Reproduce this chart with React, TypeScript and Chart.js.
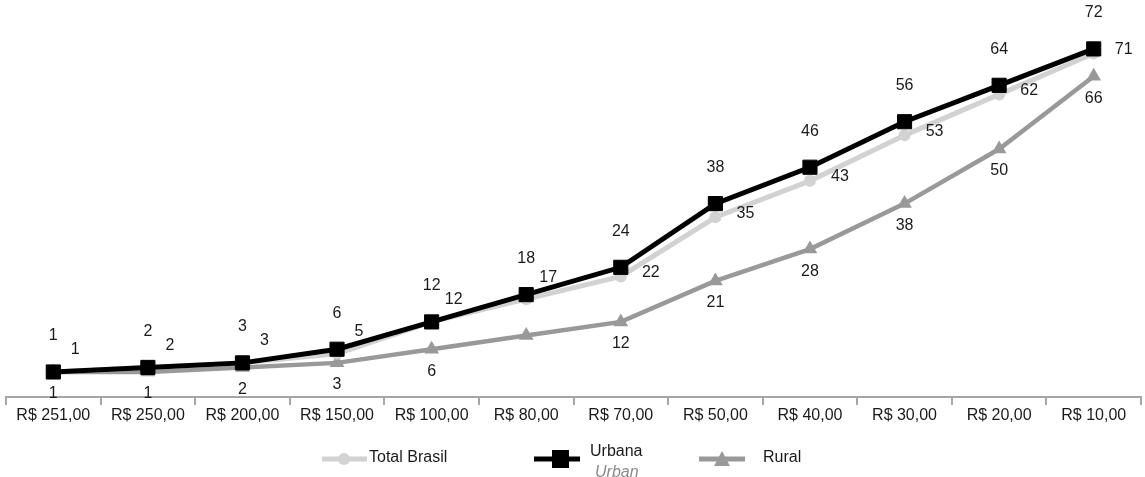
import React, { useEffect, useRef } from "react";
import { Chart, registerables } from "chart.js";

Chart.register(...registerables);

const categories = [
  "R$ 251,00", "R$ 250,00", "R$ 200,00", "R$ 150,00", "R$ 100,00", "R$ 80,00",
  "R$ 70,00", "R$ 50,00", "R$ 40,00", "R$ 30,00", "R$ 20,00", "R$ 10,00",
];
const totalBrasil = [1, 2, 3, 5, 12, 17, 22, 35, 43, 53, 62, 71];
const urbana = [1, 2, 3, 6, 12, 18, 24, 38, 46, 56, 64, 72];
const rural = [1, 1, 2, 3, 6, 9, 12, 21, 28, 38, 50, 66];
const ruralLabelShown = [true, true, true, true, true, false, true, true, true, true, true, true];

const FONT = "'Liberation Sans', Arial, sans-serif";
const FS = 16;
const LIGHT = "#d2d2d2";
const MID = "#999999";
const DARK = "#000000";

const labelsPlugin = {
  id: "valueLabels",
  afterDatasetsDraw(chart: any) {
    const ctx = chart.ctx;
    ctx.save();
    ctx.font = `${FS}px ${FONT}`;
    ctx.fillStyle = "#1a1a1a";
    ctx.textAlign = "center";
    ctx.textBaseline = "middle";
    chart.data.datasets.forEach((ds: any, i: number) => {
      const meta = chart.getDatasetMeta(i);
      meta.data.forEach((pt: any, j: number) => {
        const v = ds.data[j];
        let dx = 0, dy = 0;
        if (ds.label === "Urbana") { dy = -36; }
        else if (ds.label === "Total Brasil") {
          if (v < 20) { dx = 22; dy = -22; } else { dx = 30; dy = -4; }
        } else { if (!ruralLabelShown[j]) return; dy = 22; }
        ctx.fillText(String(v), pt.x + dx, pt.y + dy);
      });
    });
    ctx.restore();
  },
};

const legendPlugin = {
  id: "customLegend",
  afterDraw(chart: any) {
    const ctx = chart.ctx;
    ctx.save();
    const y = 459;
    ctx.strokeStyle = LIGHT; ctx.lineWidth = 5;
    ctx.beginPath(); ctx.moveTo(322, y); ctx.lineTo(367, y); ctx.stroke();
    ctx.fillStyle = LIGHT;
    ctx.beginPath(); ctx.arc(344, y, 6, 0, Math.PI * 2); ctx.fill();
    ctx.strokeStyle = DARK; ctx.lineWidth = 5;
    ctx.beginPath(); ctx.moveTo(534, y); ctx.lineTo(580, y); ctx.stroke();
    ctx.fillStyle = DARK; ctx.fillRect(552, y - 9, 17, 18);
    ctx.strokeStyle = MID; ctx.lineWidth = 5;
    ctx.beginPath(); ctx.moveTo(699, y); ctx.lineTo(745, y); ctx.stroke();
    ctx.fillStyle = MID;
    ctx.beginPath(); ctx.moveTo(722, 451); ctx.lineTo(730, 466); ctx.lineTo(714, 466); ctx.closePath(); ctx.fill();
    ctx.textBaseline = "middle"; ctx.textAlign = "left";
    ctx.font = `${FS}px ${FONT}`; ctx.fillStyle = "#1a1a1a";
    ctx.fillText("Total Brasil", 369, 458);
    ctx.fillText("Urbana", 590, 452);
    ctx.fillText("Rural", 763, 458);
    ctx.font = `italic ${FS}px ${FONT}`; ctx.fillStyle = "#8a8a8a";
    ctx.fillText("Urban", 595, 473);
    ctx.restore();
  },
};

export default function App() {
  const ref = useRef<HTMLCanvasElement>(null);
  useEffect(() => {
    if (!ref.current) return;
    document.documentElement.style.overflow = "hidden";
    document.body.style.margin = "0";
    document.body.style.overflow = "hidden";
    const chart = new Chart(ref.current, {
      type: "line",
      data: {
        labels: categories,
        datasets: [
          {
            label: "Urbana", data: urbana, order: 0,
            borderColor: DARK, backgroundColor: DARK, borderWidth: 5,
            pointStyle: "rect", pointRadius: 10, pointBorderWidth: 1,
            pointBackgroundColor: DARK, pointBorderColor: DARK,
          },
          {
            label: "Total Brasil", data: totalBrasil, order: 1,
            borderColor: LIGHT, backgroundColor: LIGHT, borderWidth: 5,
            pointStyle: "circle", pointRadius: 6, pointBorderWidth: 0,
            pointBackgroundColor: LIGHT,
          },
          {
            label: "Rural", data: rural, order: 2,
            borderColor: MID, backgroundColor: MID, borderWidth: 4.5,
            pointStyle: "triangle", pointRadius: 8.5, pointBorderWidth: 0,
            pointBackgroundColor: MID,
          },
        ],
      },
      options: {
        animation: false,
        responsive: false,
        devicePixelRatio: 1,
        layout: { autoPadding: false, padding: { left: 6, right: 4, top: 12.5, bottom: 0 } },
        plugins: { legend: { display: false }, tooltip: { enabled: false } },
        scales: {
          x: {
            type: "category",
            offset: true,
            grid: {
              offset: true, drawOnChartArea: false, drawTicks: true,
              tickLength: 8, color: "#a6a6a6", lineWidth: 2,
            },
            border: { display: true, color: "#a6a6a6", width: 2 },
            ticks: {
              color: "#1a1a1a", font: { family: FONT, size: FS }, padding: 1,
              maxRotation: 0, autoSkip: false,
            },
            afterFit: (scale: any) => { scale.height = 80; },
          },
          y: { display: false, min: -4.5, max: 80 },
        },
      },
      plugins: [labelsPlugin, legendPlugin],
    });
    return () => chart.destroy();
  }, []);
  return (
    <div style={{ position: "absolute", left: 0, top: 0, width: 1145, height: 477, background: "#fff", overflow: "hidden" }}>
      <canvas ref={ref} width={1145} height={477} style={{ display: "block", width: 1145, height: 477 }} />
    </div>
  );
}
